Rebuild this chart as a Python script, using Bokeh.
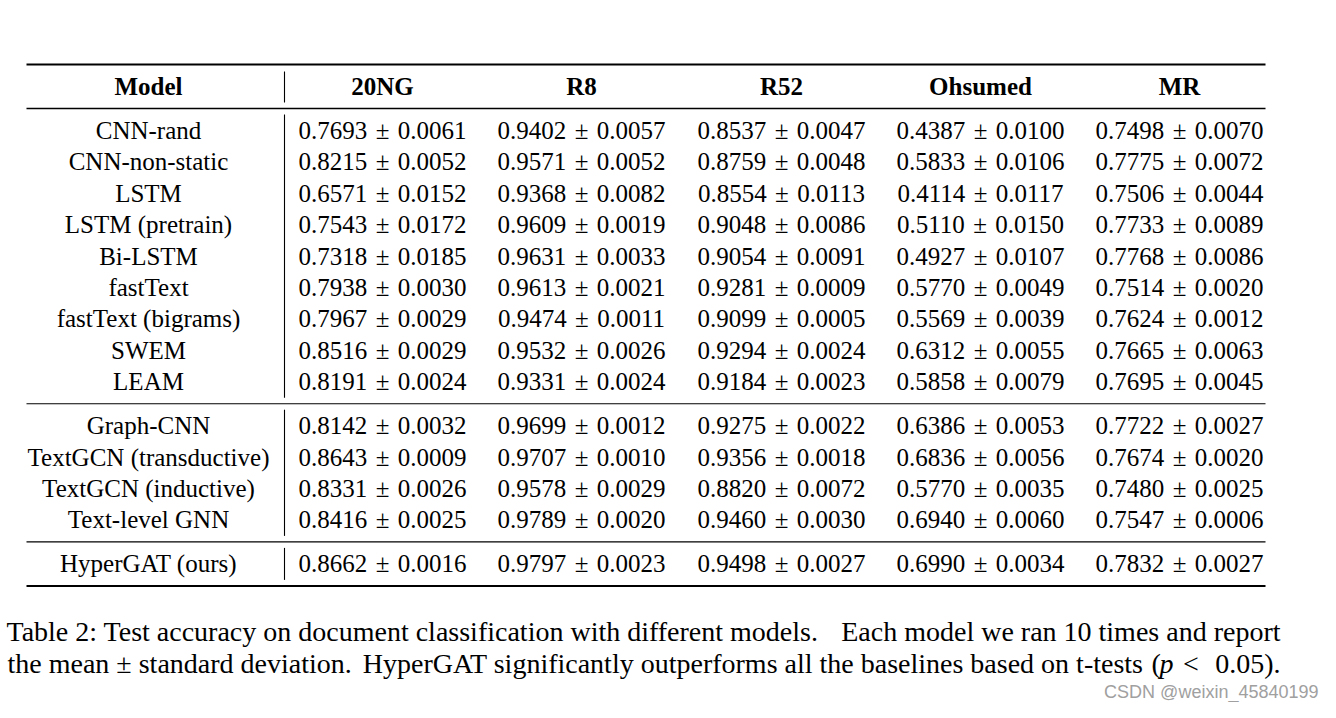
from bokeh.plotting import figure
from bokeh.models import Range1d, ColumnDataSource
from bokeh.core.properties import value
from bokeh.embed import file_html
from bokeh.resources import INLINE

# ---------------- data ----------------
datasets = ["20NG", "R8", "R52", "Ohsumed", "MR"]
models = ["CNN-rand", "CNN-non-static", "LSTM", "LSTM (pretrain)", "Bi-LSTM",
          "fastText", "fastText (bigrams)", "SWEM", "LEAM",
          "Graph-CNN", "TextGCN (transductive)", "TextGCN (inductive)", "Text-level GNN",
          "HyperGAT (ours)"]
group_sizes = [9, 4, 1]

mean_20ng = [0.7693, 0.8215, 0.6571, 0.7543, 0.7318, 0.7938, 0.7967, 0.8516, 0.8191,
             0.8142, 0.8643, 0.8331, 0.8416, 0.8662]
std_20ng = [0.0061, 0.0052, 0.0152, 0.0172, 0.0185, 0.0030, 0.0029, 0.0029, 0.0024,
            0.0032, 0.0009, 0.0026, 0.0025, 0.0016]
mean_r8 = [0.9402, 0.9571, 0.9368, 0.9609, 0.9631, 0.9613, 0.9474, 0.9532, 0.9331,
           0.9699, 0.9707, 0.9578, 0.9789, 0.9797]
std_r8 = [0.0057, 0.0052, 0.0082, 0.0019, 0.0033, 0.0021, 0.0011, 0.0026, 0.0024,
          0.0012, 0.0010, 0.0029, 0.0020, 0.0023]
mean_r52 = [0.8537, 0.8759, 0.8554, 0.9048, 0.9054, 0.9281, 0.9099, 0.9294, 0.9184,
            0.9275, 0.9356, 0.8820, 0.9460, 0.9498]
std_r52 = [0.0047, 0.0048, 0.0113, 0.0086, 0.0091, 0.0009, 0.0005, 0.0024, 0.0023,
           0.0022, 0.0018, 0.0072, 0.0030, 0.0027]
mean_ohsumed = [0.4387, 0.5833, 0.4114, 0.5110, 0.4927, 0.5770, 0.5569, 0.6312, 0.5858,
                0.6386, 0.6836, 0.5770, 0.6940, 0.6990]
std_ohsumed = [0.0100, 0.0106, 0.0117, 0.0150, 0.0107, 0.0049, 0.0039, 0.0055, 0.0079,
               0.0053, 0.0056, 0.0035, 0.0060, 0.0034]
mean_mr = [0.7498, 0.7775, 0.7506, 0.7733, 0.7768, 0.7514, 0.7624, 0.7665, 0.7695,
           0.7722, 0.7674, 0.7480, 0.7547, 0.7832]
std_mr = [0.0070, 0.0072, 0.0044, 0.0089, 0.0086, 0.0020, 0.0012, 0.0063, 0.0045,
          0.0027, 0.0020, 0.0025, 0.0006, 0.0027]

caption_l1a = "Table 2: Test accuracy on document classification with different models."
caption_l1b = "Each model we ran 10 times and report"
caption_l2a = "the mean \u00b1 standard deviation."
caption_l2b = "HyperGAT significantly outperforms all the baselines based on t-tests"
caption_l2c = "("
caption_l2p = "p"
caption_l2d = "<\u2004 0.05)."
watermark = "CSDN @weixin_45840199"

# ---------------- layout ----------------
W, H = 1320, 702
X_MODEL = 148
X_COLS = [382, 581, 781, 980, 1179]
X_VLINE = 284
RULE_X0, RULE_X1 = 26, 1265
Y_TOP = 64
Y_HEAD = 86
Y_HEADRULE = 108
Y_FIRST = 130
STEP = 31.4
GAP = 44
FONT = "Liberation Serif"
FS = "25px"
CFS = "28px"
SP = "\u2004"

p = figure(width=W, height=H, output_backend="svg", toolbar_location=None,
           x_range=Range1d(0, W), y_range=Range1d(H, 0),
           x_axis_type=None, y_axis_type=None, min_border=0,
           outline_line_color=None, background_fill_color="white",
           border_fill_color="white")
p.xgrid.visible = False
p.ygrid.visible = False

# row positions
row_y = []
mid_rules = []
vsegs = []
y = Y_FIRST
for gi, n in enumerate(group_sizes):
    first = y
    for k in range(n):
        row_y.append(y)
        last = y
        y += STEP
    vsegs.append((first - 16, last + 16))
    if gi < len(group_sizes) - 1:
        mid_rules.append(last + 22)
    y = last + GAP
y_bottom = row_y[-1] + 22

# rules
p.segment(x0=[RULE_X0, RULE_X0], x1=[RULE_X1, RULE_X1], y0=[Y_TOP, y_bottom],
          y1=[Y_TOP, y_bottom], line_color="black", line_width=2)
p.segment(x0=[RULE_X0], x1=[RULE_X1], y0=[Y_HEADRULE], y1=[Y_HEADRULE],
          line_color="black", line_width=1.4)
p.segment(x0=[RULE_X0] * len(mid_rules), x1=[RULE_X1] * len(mid_rules),
          y0=mid_rules, y1=mid_rules, line_color="black", line_width=1.1)
# vertical separators
vy0 = [Y_HEAD - 15] + [a for a, b in vsegs]
vy1 = [Y_HEAD + 16] + [b for a, b in vsegs]
p.segment(x0=[X_VLINE] * len(vy0), x1=[X_VLINE] * len(vy0), y0=vy0, y1=vy1,
          line_color="black", line_width=1.1)

# header
hdr = ColumnDataSource(dict(x=[X_MODEL] + X_COLS, y=[Y_HEAD] * 6, t=["Model"] + datasets))
p.text(x="x", y="y", text="t", source=hdr, text_font=value(FONT), text_font_size=value(FS),
       text_font_style="bold", text_align="center", text_baseline="middle", text_color="black")

# model names
p.text(x=[X_MODEL] * len(models), y=row_y, text=models, text_font=value(FONT),
       text_font_size=value(FS), text_align="center", text_baseline="middle", text_color="black")

# values
cols = [(mean_20ng, std_20ng), (mean_r8, std_r8), (mean_r52, std_r52),
        (mean_ohsumed, std_ohsumed), (mean_mr, std_mr)]
xs, ys, ts = [], [], []
for cx, (m, s) in zip(X_COLS, cols):
    for yy, mv, sv in zip(row_y, m, s):
        xs.append(cx)
        ys.append(yy)
        ts.append(f"{mv:.4f}{SP}\u00b1{SP}{sv:.4f}")
p.text(x=xs, y=ys, text=ts, text_font=value(FONT), text_font_size=value(FS),
       text_align="center", text_baseline="middle", text_color="black")

# caption (justified by anchoring pieces at both ends)
def cap(x, yy, t, align, style="normal"):
    p.text(x=[x], y=[yy], text=[t], text_font=value(FONT), text_font_size=value(CFS),
           text_font_style=style, text_align=align, text_baseline="middle",
           text_color="black")

cap(6, 631, caption_l1a, "left")
cap(1280, 631, caption_l1b, "right")
cap(7, 663, caption_l2a, "left")
cap(1143, 663, caption_l2b, "right")
cap(1151, 663, caption_l2c, "left")
cap(1159, 663, caption_l2p, "left", "italic")
cap(1280, 663, caption_l2d, "right")

# watermark
p.text(x=[1318], y=[691], text=[watermark], text_font=value("Liberation Sans"),
       text_font_size=value("18px"), text_align="right", text_baseline="middle",
       text_color="#a0a0a0")

open("out.html", "w").write(file_html(p, INLINE))
